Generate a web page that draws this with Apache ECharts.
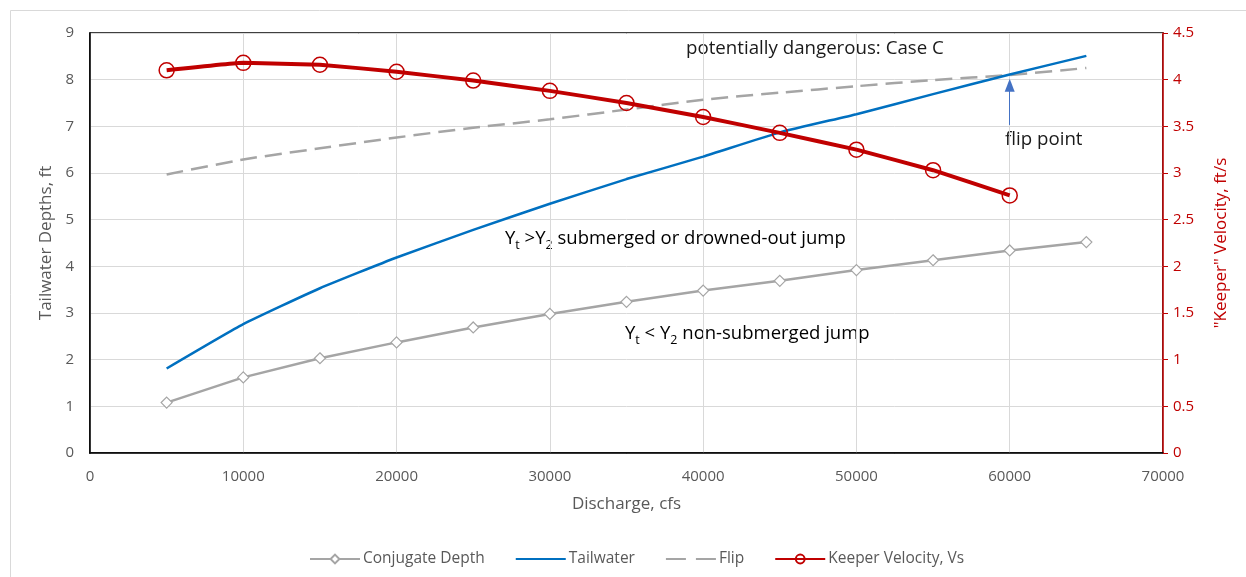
<!DOCTYPE html>
<html>
<head>
<meta charset="utf-8">
<script src="https://cdn.jsdelivr.net/npm/echarts@6/dist/echarts.min.js"></script>
<style>html,body{margin:0;padding:0;background:#fff;}#c{width:1246px;height:577px;}</style>
</head>
<body>
<div id="c"></div>
<script>
var discharge = [5000, 10000, 15000, 20000, 25000, 30000, 35000, 40000, 45000, 50000, 55000, 60000, 65000];
var conjugateDepth = [1.08, 1.62, 2.03, 2.37, 2.69, 2.98, 3.24, 3.48, 3.69, 3.92, 4.13, 4.34, 4.52];
var tailwater = [1.81, 2.76, 3.53, 4.19, 4.78, 5.34, 5.87, 6.35, 6.87, 7.26, 7.69, 8.11, 8.51];
var flip = [5.97, 6.29, 6.53, 6.76, 6.97, 7.15, 7.36, 7.57, 7.72, 7.86, 7.99, 8.10, 8.25];
var keeperVelocity = [4.10, 4.18, 4.16, 4.085, 3.99, 3.88, 3.75, 3.60, 3.43, 3.25, 3.03, 2.76];
var leftTicks = {min: 0, max: 9, interval: 1};
var rightTicks = {min: 0, max: 4.5, interval: 0.5};
var xTicks = {min: 0, max: 70000, interval: 10000};

function pairs(xs, ys) { return ys.map(function (y, i) { return [xs[i], y]; }); }

var FONT = '"Open Sans", "Noto Sans", sans-serif';
var GRAY = '#595959';
var RED = '#C00000';
var TXT = '#1a1a1a';
var chart = echarts.init(document.getElementById('c'), null, {renderer: 'canvas'});
chart.setOption({
  backgroundColor: '#fff',
  animation: false,
  textStyle: {fontFamily: FONT},
  grid: {left: 90, right: 83, top: 33, bottom: 124, show: true, borderColor: '#000', borderWidth: 1.5, backgroundColor: 'transparent'},
  legend: {
    top: 546, left: 304, itemWidth: 50, itemHeight: 11, itemGap: 30,
    textStyle: {color: GRAY, fontSize: 15.5, fontFamily: FONT, padding: [0, 0, 0, -2]},
    data: [
      {name: 'Conjugate Depth'},
      {name: 'Tailwater', itemStyle: {opacity: 0}},
      {name: 'Flip', itemStyle: {opacity: 0}, lineStyle: {type: [20, 10]}},
      {name: 'Keeper Velocity, Vs'}
    ]
  },
  xAxis: {
    type: 'value', min: xTicks.min, max: xTicks.max, interval: xTicks.interval,
    name: 'Discharge, cfs', nameLocation: 'middle', nameGap: 43,
    nameTextStyle: {color: GRAY, fontSize: 17},
    axisLine: {show: true, lineStyle: {color: '#000', width: 1.5}},
    axisTick: {show: false},
    axisLabel: {color: GRAY, fontSize: 15, margin: 16, formatter: function (v) { return String(v); }},
    splitLine: {show: true, lineStyle: {color: '#D9D9D9', width: 1}}
  },
  yAxis: [{
    type: 'value', min: leftTicks.min, max: leftTicks.max, interval: leftTicks.interval, position: 'left',
    name: 'Tailwater Depths, ft', nameLocation: 'middle', nameGap: 35,
    nameTextStyle: {color: GRAY, fontSize: 17},
    axisLine: {show: true, lineStyle: {color: '#000', width: 1.5}},
    axisTick: {show: false},
    axisLabel: {color: GRAY, fontSize: 15, margin: 16},
    splitLine: {show: true, lineStyle: {color: '#D9D9D9', width: 1}}
  }, {
    type: 'value', min: rightTicks.min, max: rightTicks.max, interval: rightTicks.interval, position: 'right',
    name: '"Keeper" Velocity, ft/s', nameLocation: 'middle', nameGap: 50, nameRotate: 90,
    nameTextStyle: {color: RED, fontSize: 17},
    axisLine: {show: true, lineStyle: {color: RED, width: 1.5}},
    axisTick: {show: true, inside: false, length: 5, lineStyle: {color: RED, width: 1}},
    axisLabel: {color: RED, fontSize: 15, margin: 10},
    splitLine: {show: false}
  }],
  series: [{
    name: 'Conjugate Depth', type: 'line', yAxisIndex: 0,
    data: pairs(discharge, conjugateDepth),
    symbol: 'diamond', symbolSize: 11,
    lineStyle: {color: '#A5A5A5', width: 2.5},
    itemStyle: {color: '#fff', borderColor: '#A5A5A5', borderWidth: 1.2},
    z: 3
  }, {
    name: 'Tailwater', type: 'line', yAxisIndex: 0,
    data: pairs(discharge, tailwater),
    symbol: 'none', smooth: 0.15,
    lineStyle: {color: '#0070C0', width: 2.5},
    itemStyle: {color: '#0070C0'},
    markLine: {
      silent: true, symbol: ['none', 'triangle'], symbolSize: [10, 13],
      label: {show: false},
      lineStyle: {color: '#4472C4', width: 1, type: 'solid'},
      data: [[{coord: [60000, 7.03]}, {coord: [60000, 7.88]}]]
    },
    z: 4
  }, {
    name: 'Flip', type: 'line', yAxisIndex: 0,
    data: pairs(discharge, flip),
    symbol: 'none', smooth: 0.2,
    lineStyle: {color: '#A5A5A5', width: 2.5, type: [17, 8]},
    itemStyle: {color: '#A5A5A5'},
    z: 3
  }, {
    name: 'Keeper Velocity, Vs', type: 'line', yAxisIndex: 1,
    data: pairs(discharge, keeperVelocity),
    symbol: 'circle', symbolSize: 15, smooth: 0.08,
    lineStyle: {color: RED, width: 4},
    itemStyle: {color: 'rgba(255,255,255,0)', borderColor: RED, borderWidth: 1.5},
    z: 5
  }],
  graphic: [
    {type: 'rect', silent: true, shape: {x: 10.5, y: 10.5, width: 1300, height: 700}, style: {fill: 'none', stroke: '#D9D9D9', lineWidth: 1}, z: -10},
    {type: 'text', left: 686, top: 39, style: {text: 'potentially dangerous: Case C', fontSize: 18.7, fontFamily: FONT, fill: TXT}},
    {type: 'text', left: 1005, top: 130, style: {text: 'flip point', fontSize: 18.7, fontFamily: FONT, fill: TXT}},
    {type: 'text', left: 505, top: 229, style: {
      text: '{a|Y}{s|t}{a| >Y}{s|2}{a| submerged or drowned-out jump}',
      rich: {a: {fontSize: 18.5, fontFamily: FONT, color: TXT, lineHeight: 26, verticalAlign: 'middle'},
             s: {fontSize: 12.5, fontFamily: FONT, color: TXT, verticalAlign: 'bottom'}}
    }},
    {type: 'text', left: 625, top: 324, style: {
      text: '{a|Y}{s|t}{a| < Y}{s|2}{a| non-submerged jump}',
      rich: {a: {fontSize: 18.5, fontFamily: FONT, color: TXT, lineHeight: 26, verticalAlign: 'middle'},
             s: {fontSize: 12.5, fontFamily: FONT, color: TXT, verticalAlign: 'bottom'}}
    }}
  ]
});
</script>
</body>
</html>
